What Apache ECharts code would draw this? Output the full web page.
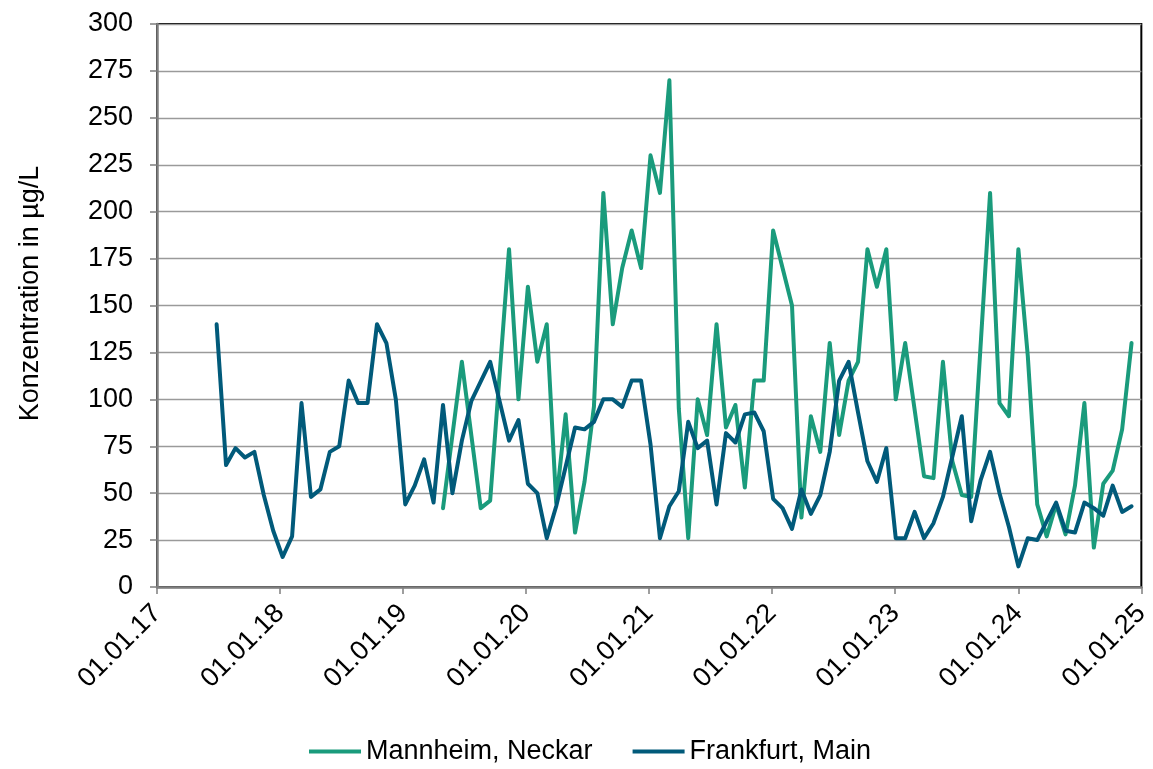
<!DOCTYPE html>
<html>
<head>
<meta charset="utf-8">
<script src="https://cdn.jsdelivr.net/npm/echarts@6/dist/echarts.min.js"></script>
<style>
    html, body { margin: 0; padding: 0; background: #fff; }
    #chart { width: 1153px; height: 769px; }
</style>
</head>
<body>
<div id="chart"></div>
<script>
// Probenahme alle 4 Wochen, erster Termin 27.06.2017
const SAMPLE_START = new Date(2017, 5, 27).getTime();
const SAMPLE_STEP_DAYS = 28;
const DAY = 86400000;

// Achsen
const xStart = new Date(2017, 0, 1).getTime();
const xEnd = new Date(2025, 0, 1).getTime();
const yTicks = [0, 25, 50, 75, 100, 125, 150, 175, 200, 225, 250, 275, 300];

const seriesNames = ['Mannheim, Neckar', 'Frankfurt, Main'];

// Mannheim, Neckar: Probennummer / Wert
const mannheimSample = [24, 26, 28, 29, 31, 32, 33, 34, 35, 36, 37, 38, 39, 40, 41, 42, 43, 44, 45, 46,
    47, 48, 49, 50, 51, 52, 53, 54, 55, 56, 57, 58, 59, 61, 62, 63, 64, 65, 66, 67,
    68, 69, 70, 71, 72, 73, 75, 76, 77, 78, 79, 80, 82, 83, 84, 85, 86, 87, 88, 89,
    90, 91, 92, 93, 94, 95, 96, 97];
const mannheimValue = [42, 120, 42, 46, 180, 100, 160, 120, 140, 45, 92, 29, 56, 96, 210, 140, 170, 190, 170, 230,
    210, 270, 95, 26, 100, 81, 140, 85, 97, 53, 110, 110, 190, 150, 37, 91, 72, 130, 81, 110,
    120, 180, 160, 180, 100, 130, 59, 58, 120, 67, 49, 48, 210, 98, 91, 180, 123, 44, 27, 44,
    28, 54, 98, 21, 55, 62, 84, 130];

// Frankfurt, Main: Probennummer / Wert
const frankfurtSample = [0, 1, 2, 3, 4, 5, 6, 7, 8, 9, 10, 11, 12, 13, 14, 15, 16, 17, 18, 19,
    20, 21, 22, 23, 24, 25, 26, 27, 29, 31, 32, 33, 34, 35, 36, 38, 39, 40, 41, 42,
    43, 44, 45, 46, 47, 48, 49, 50, 51, 52, 53, 54, 55, 56, 57, 58, 59, 60, 61, 62,
    63, 64, 65, 66, 67, 68, 69, 70, 71, 72, 73, 74, 75, 76, 77, 79, 80, 81, 82, 83,
    84, 85, 86, 87, 89, 90, 91, 92, 93, 94, 95, 96, 97];
const frankfurtValue = [140, 65, 74, 69, 72, 49, 30, 16, 27, 98, 48, 52, 72, 75, 110, 98, 98, 140, 130, 100,
    44, 54, 68, 45, 97, 50, 78, 99, 120, 78, 89, 55, 50, 26, 43, 85, 84, 88, 100, 100,
    96, 110, 110, 76, 26, 43, 51, 88, 74, 78, 44, 82, 77, 92, 93, 83, 47, 42, 31, 52,
    39, 49, 72, 110, 120, 93, 67, 56, 74, 26, 26, 40, 26, 34, 48, 91, 35, 57, 72, 50,
    32, 11, 26, 25, 45, 30, 29, 45, 42, 38, 54, 40, 43];

// Farben
const COLORS = {
    mannheim: '#1a9b7c',
    frankfurt: '#015a7a',
    grid: '#9a9a9a',
    axis: '#7f7f7f'
};
const FONT = 'Liberation Sans, Arial, sans-serif';
const FONT_SIZE = 27;

function toPairs(samples, values) {
    return samples.map((s, i) => [SAMPLE_START + s * SAMPLE_STEP_DAYS * DAY, values[i]]);
}

function pad2(n) {
    return (n < 10 ? '0' : '') + n;
}

function formatDate(v) {
    const d = new Date(v);
    return pad2(d.getDate()) + '.' + pad2(d.getMonth() + 1) + '.' + String(d.getFullYear()).slice(2);
}

const chart = echarts.init(document.getElementById('chart'), null, { renderer: 'canvas' });

const lineSeries = (name, color, data) => ({
    name: name,
    type: 'line',
    data: data,
    showSymbol: false,
    symbol: 'none',
    lineStyle: { color: color, width: 4, join: 'round', cap: 'round' },
    itemStyle: { color: color },
    animation: false
});

chart.setOption({
    backgroundColor: '#fff',
    grid: {
        left: 157,
        right: 10,
        top: 24,
        bottom: 182,
        show: true,
        borderColor: '#000',
        borderWidth: 2
    },
    legend: {
        data: seriesNames,
        left: 304,
        top: 733,
        icon: 'rect',
        itemWidth: 52,
        itemHeight: 4,
        itemGap: 40,
        textStyle: { fontFamily: FONT, fontSize: FONT_SIZE, color: '#000' }
    },
    xAxis: {
        type: 'value',
        min: xStart,
        max: xEnd,
        interval: (xEnd - xStart) / 8,
        splitLine: { show: false },
        axisLine: { lineStyle: { color: COLORS.axis, width: 2.5 } },
        axisTick: { show: true, length: 7, lineStyle: { color: COLORS.axis, width: 1.5 } },
        axisLabel: {
            rotate: 45,
            margin: 22,
            formatter: formatDate,
            fontFamily: FONT,
            fontSize: FONT_SIZE,
            color: '#000',
            showMinLabel: true,
            showMaxLabel: true
        }
    },
    yAxis: {
        type: 'value',
        min: yTicks[0],
        max: yTicks[yTicks.length - 1],
        interval: yTicks[1] - yTicks[0],
        name: 'Konzentration in µg/L',
        nameLocation: 'middle',
        nameRotate: 90,
        nameGap: 113,
        nameTextStyle: { fontFamily: FONT, fontSize: FONT_SIZE, color: '#000', padding: [0, 0, 0, 24] },
        axisLine: { show: true, lineStyle: { color: COLORS.axis, width: 2.5 } },
        axisTick: { show: true, length: 7, lineStyle: { color: COLORS.axis, width: 1.5 } },
        axisLabel: { margin: 24, fontFamily: FONT, fontSize: FONT_SIZE, color: '#000' },
        splitLine: { lineStyle: { color: COLORS.grid, width: 1.3 } }
    },
    series: [
        lineSeries(seriesNames[0], COLORS.mannheim, toPairs(mannheimSample, mannheimValue)),
        lineSeries(seriesNames[1], COLORS.frankfurt, toPairs(frankfurtSample, frankfurtValue))
    ]
});
</script>
</body>
</html>
